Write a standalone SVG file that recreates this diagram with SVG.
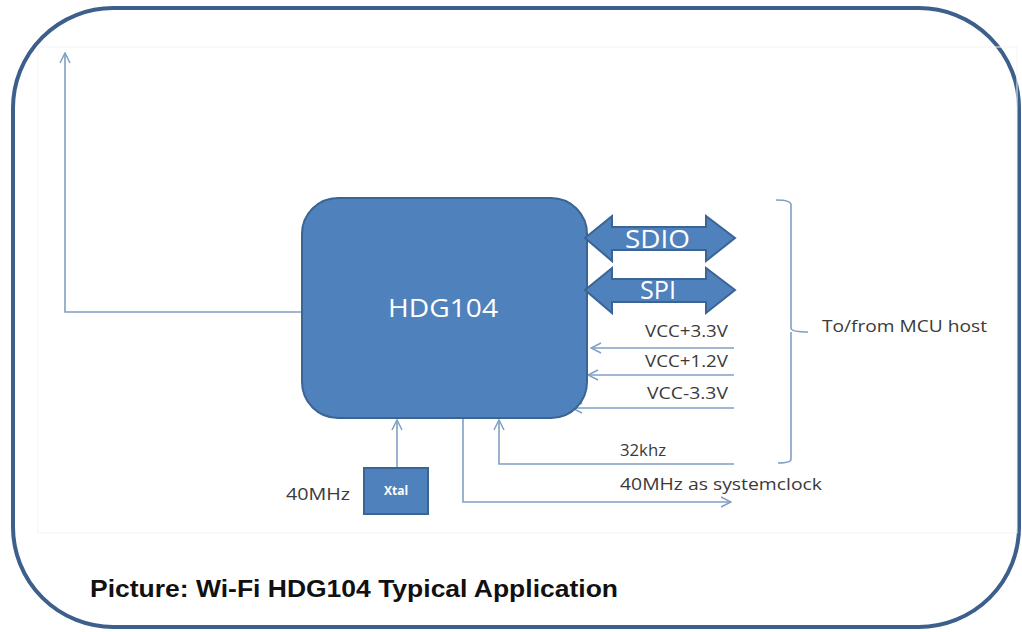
<svg xmlns="http://www.w3.org/2000/svg" width="1022" height="632" viewBox="0 0 1022 632">
<style>
.conn{fill:none;stroke:#7f9fc4;stroke-width:1.6}
.lbl{font-family:"Open Sans","Liberation Sans",sans-serif;font-size:17px;fill:#3a3a3a}
.sm{font-size:16px}
.wt{font-family:"Open Sans","Liberation Sans",sans-serif;fill:#ffffff}
.blk{fill:#4f81bd;stroke:#3a6494;stroke-width:2}
</style>
<defs>
<marker id="oa" viewBox="0 0 12 12" refX="11" refY="6" markerWidth="12" markerHeight="12" markerUnits="userSpaceOnUse" orient="auto">
<path d="M1,1 L11,6 L1,11" fill="none" stroke="#7f9fc4" stroke-width="1.5"/>
</marker>
</defs>
<rect width="1022" height="632" fill="#ffffff"/>
<rect x="13" y="8" width="1006" height="619" rx="100" ry="100" fill="none" stroke="#3d5f8c" stroke-width="4"/>
<rect x="38" y="47" width="979" height="486" fill="none" stroke="#f3f3f3" stroke-width="1"/>
<g id="connectors">
<polyline class="conn" points="302,312 65,312 65,53" marker-end="url(#oa)"/>
<line class="conn" x1="734" y1="348" x2="591" y2="348" marker-end="url(#oa)"/>
<line class="conn" x1="734" y1="375" x2="588" y2="375" marker-end="url(#oa)"/>
<line class="conn" x1="734" y1="408" x2="572" y2="408" marker-end="url(#oa)"/>
<polyline class="conn" points="734,464 499,464 499,420" marker-end="url(#oa)"/>
<line class="conn" x1="397" y1="468" x2="397" y2="420" marker-end="url(#oa)"/>
<polyline class="conn" points="463,418 463,502 731,502" marker-end="url(#oa)"/>
<path class="conn" d="M776,200 Q791,200 791,205 L791,328 Q791,332 808,332 M791,332 Q791,336 791,340 L791,459 Q791,463 778,463"/>
</g>
<g id="hdg104">
<rect class="blk" x="302" y="198" width="285" height="220" rx="36" ry="36"/>
<text class="wt" x="388" y="317" font-size="26" textLength="110" lengthAdjust="spacingAndGlyphs">HDG104</text>
</g>
<g id="sdio">
<path class="blk" d="M585,238 L612,216 L612,227 L706,227 L706,216 L735,238 L706,261 L706,250 L612,250 L612,261 Z"/>
<text class="wt" x="625" y="248" font-size="25" textLength="65" lengthAdjust="spacingAndGlyphs">SDIO</text>
</g>
<g id="spi">
<path class="blk" d="M585,290 L612,268 L612,279 L706,279 L706,268 L735,290 L706,313 L706,302 L612,302 L612,313 Z"/>
<text class="wt" x="640" y="299" font-size="25" textLength="36" lengthAdjust="spacingAndGlyphs">SPI</text>
</g>
<g id="xtal">
<rect x="364" y="468" width="64" height="46" fill="#4f81bd" stroke="#3a6494" stroke-width="2"/>
<text class="wt" x="396" y="495" font-size="12" font-weight="bold" text-anchor="middle">Xtal</text>
</g>
<g id="labels">
<text class="lbl" x="645" y="337" textLength="83" lengthAdjust="spacingAndGlyphs">VCC+3.3V</text>
<text class="lbl" x="645" y="367" textLength="83" lengthAdjust="spacingAndGlyphs">VCC+1.2V</text>
<text class="lbl" x="647" y="399" textLength="81" lengthAdjust="spacingAndGlyphs">VCC-3.3V</text>
<text class="lbl" x="822" y="332" textLength="165" lengthAdjust="spacingAndGlyphs">To/from MCU host</text>
<text class="lbl sm" x="620" y="456" textLength="46" lengthAdjust="spacingAndGlyphs">32khz</text>
<text class="lbl sm" x="620" y="490" textLength="202" lengthAdjust="spacingAndGlyphs">40MHz as systemclock</text>
<text class="lbl sm" x="286" y="500" textLength="64" lengthAdjust="spacingAndGlyphs">40MHz</text>
</g>
<text x="90" y="597" font-family="'Liberation Sans',sans-serif" font-size="23" font-weight="bold" fill="#111111" textLength="528" lengthAdjust="spacingAndGlyphs">Picture: Wi-Fi HDG104 Typical Application</text>
</svg>
